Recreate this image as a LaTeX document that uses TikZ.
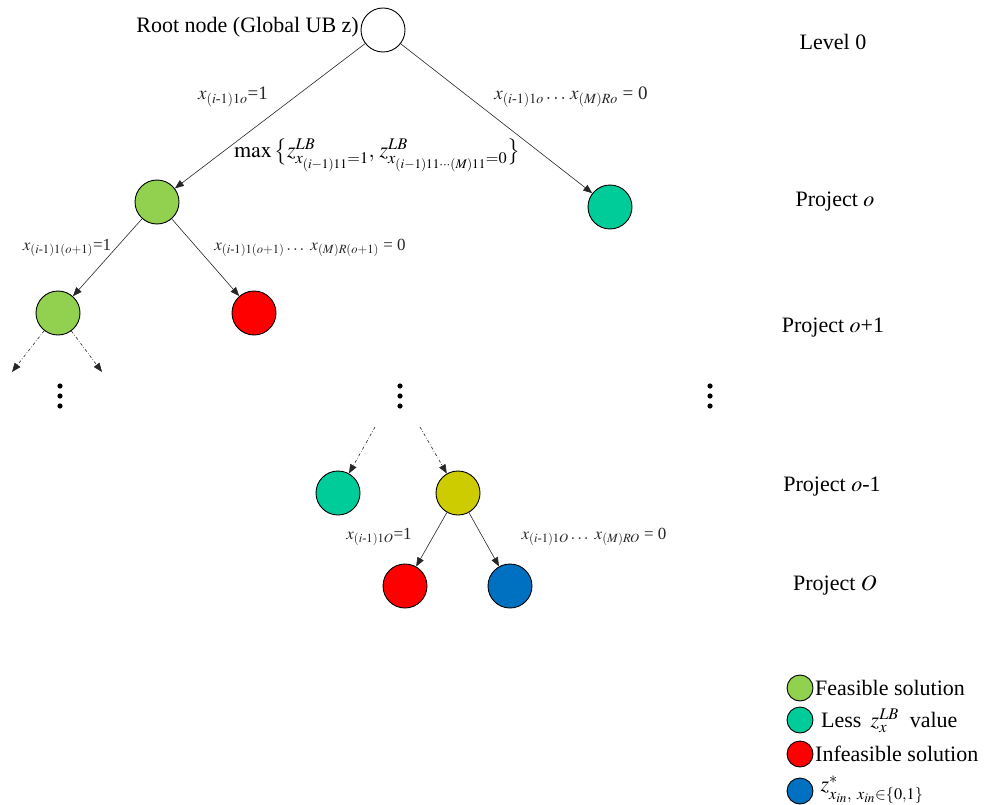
\documentclass[tikz,border=0pt]{standalone}
\usepackage{amsmath}
\usepackage{mathptmx}
\usepackage[no-math]{fontspec}
\setmainfont{Liberation Serif}
\newfontfamily\tnr{Liberation Serif}
\usetikzlibrary{arrows.meta}

\definecolor{feas}{HTML}{92D050}
\definecolor{less}{HTML}{00CC99}
\definecolor{infeas}{HTML}{FF0000}
\definecolor{opt}{HTML}{0070C0}
\definecolor{cand}{HTML}{CCCC00}

\newcommand{\hy}{\text{-}}

\begin{document}
\begin{tikzpicture}[x=1pt,y=-1pt,
  state/.style={circle, draw=black, line width=0.9pt, minimum size=44pt, inner sep=0pt},
  keydot/.style={circle, draw=black, line width=0.9pt, minimum size=26pt, inner sep=0pt},
  edge/.style={-{Triangle[length=9pt,width=7pt]}, line width=0.6pt, draw=black!85},
  ddedge/.style={edge, dash dot},
  lbl/.style={font=\tnr\fontsize{22}{24}\selectfont, inner sep=0pt},
  elbl/.style={font=\tnr\fontsize{19}{21}\selectfont, inner sep=0pt, text=black!85},
  slbl/.style={font=\tnr\fontsize{17}{19}\selectfont, inner sep=0pt, text=black!85},
  vdot/.style={fill=black}]
\useasboundingbox (0,0) rectangle (987,805);

% tree nodes
\node[state, fill=white]  (root) at (383,30)  {};
\node[state, fill=feas]   (a)    at (157,202) {};
\node[state, fill=less]   (b)    at (610,207) {};
\node[state, fill=feas]   (c)    at (58,313)  {};
\node[state, fill=infeas] (d)    at (254,313) {};
\node[state, fill=less]   (e)    at (338,493) {};
\node[state, fill=cand]   (f)    at (458,493) {};
\node[state, fill=infeas] (g)    at (405,586) {};
\node[state, fill=opt]    (h)    at (510,586) {};

% branches
\draw[edge] (root) -- (a);
\draw[edge] (root) -- (b);
\draw[edge] (a) -- (c);
\draw[edge] (a) -- (d);
\draw[edge] (f) -- (g);
\draw[edge] (f) -- (h);

% continued branches (dash-dot)
\coordinate (cl) at (12,372);
\coordinate (cr) at (102,372);
\coordinate (el) at (375,427);
\coordinate (fr) at (420,427);
\draw[ddedge] (c) -- (cl);
\draw[ddedge] (c) -- (cr);
\draw[ddedge] (el) -- (e);
\draw[ddedge] (fr) -- (f);

% vertical ellipses
\foreach \x in {60,400,710} {
  \foreach \y in {386,396,406} \fill[vdot] (\x,\y) circle (2.6pt);
}

% node and branch labels
\node[lbl, anchor=east] (rootlbl) at (359,27) {Root node (Global UB z)};
\node[elbl] (l1) at (233,97) {$x_{(i\hy1)1o}$=1};
\node[elbl] (r1) at (571,97) {$x_{(i\hy1)1o}\ldots\, x_{(M)Ro}$ = 0};
\node[lbl] (mx) at (377,155) {$\max\,\bigl\{z^{LB}_{x_{(i-1)11}=1},\, z^{LB}_{x_{(i-1)11\cdots(M)11}=0}\bigr\}$};
\node[slbl] (l2) at (67,248) {$x_{(i\hy1)1(o+1)}$=1};
\node[slbl] (r2) at (310,248) {$x_{(i\hy1)1(o+1)}\ldots\ x_{(M)R(o+1)}$ = 0};
\node[slbl] (l3) at (379,537) {$x_{(i\hy1)1O}$=1};
\node[slbl] (r3) at (594,537) {$x_{(i\hy1)1O}\ldots\ x_{(M)RO}$ = 0};

% level labels
\node[lbl] (lv0) at (833,42)  {Level 0};
\node[lbl] (lv1) at (835,202) {Project $o$};
\node[lbl] (lv2) at (833,328) {Project $o$+1};
\node[lbl] (lv3) at (832,487) {Project $o$-1};
\node[lbl] (lv4) at (835,585) {Project $O$};

% legend
\node[keydot, fill=feas]   (k1) at (800,688) {};
\node[keydot, fill=less]   (k2) at (800,720) {};
\node[keydot, fill=infeas] (k3) at (800,754) {};
\node[keydot, fill=opt]    (k4) at (800,791) {};
\node[lbl, anchor=west] (t1) at (815,688) {Feasible solution};
\node[lbl, anchor=west] (t2) at (821,721) {Less\, $z_x^{LB}$\ \ value};
\node[lbl, anchor=west] (t3) at (815,754) {Infeasible solution};
\node[lbl] (t4) at (872,790) {$z^{*}_{x_{in},\ x_{in}\in\{0,1\}}$};
\end{tikzpicture}
\end{document}
